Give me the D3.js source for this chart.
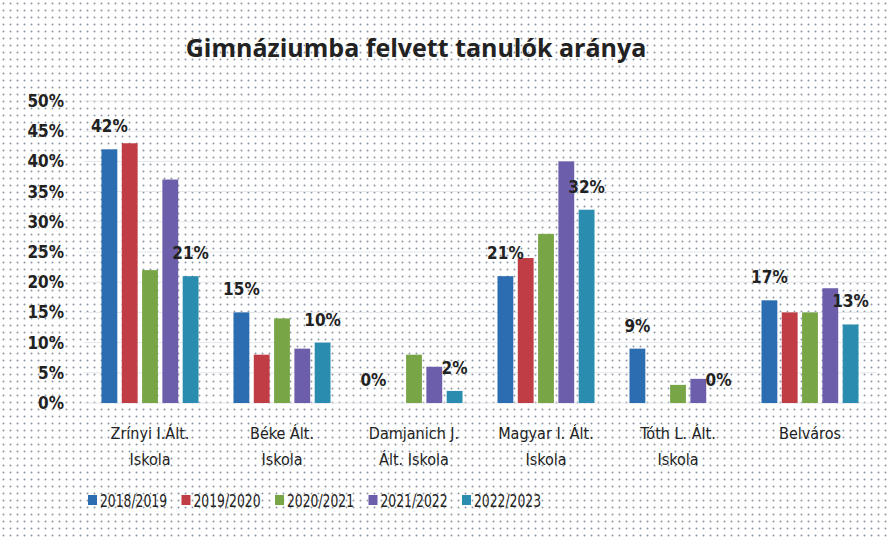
<!DOCTYPE html>
<html>
<head>
<meta charset="utf-8">
<script src="https://cdn.jsdelivr.net/npm/d3@7"></script>
<style>
  body { margin: 0; background: #fff; }
  text { font-family: "DejaVu Sans Condensed", "Roboto", sans-serif; fill: #222; }
</style>
</head>
<body>
<script>
// Gimnáziumba felvett tanulók aránya - grouped bar chart

var svgwidth = 891;
var svgheight = 539;

var schools = [
    ["Zrínyi I.Ált.", "Iskola"],
    ["Béke Ált.", "Iskola"],
    ["Damjanich J.", "Ált. Iskola"],
    ["Magyar I. Ált.", "Iskola"],
    ["Tóth L. Ált.", "Iskola"],
    ["Belváros"]
];
var years = ["2018/2019", "2019/2020", "2020/2021", "2021/2022", "2022/2023"];
var colors = ["#2b6db0", "#c03d45", "#78a646", "#6d5eac", "#2a8db0"];

// percent values per year, one per school
var v2018 = [42, 15, 0, 21, 9, 17];
var v2019 = [43, 8, 0, 24, 0, 15];
var v2020 = [22, 14, 8, 28, 3, 15];
var v2021 = [37, 9, 6, 40, 4, 19];
var v2022 = [21, 10, 2, 32, 0, 13];
var series = [v2018, v2019, v2020, v2021, v2022];

var yTicks = [0, 5, 10, 15, 20, 25, 30, 35, 40, 45, 50];

var margin = { top: 101, right: 15, bottom: 136, left: 84 };
var width = svgwidth - margin.left - margin.right;
var height = svgheight - margin.top - margin.bottom;

var svg = d3.select("body")
    .append("svg")
    .attr("width", svgwidth)
    .attr("height", svgheight);

// scanned dotted background
var defs = svg.append("defs");
var pat = defs.append("pattern")
    .attr("id", "dots")
    .attr("width", 7)
    .attr("height", 7)
    .attr("patternUnits", "userSpaceOnUse");
pat.append("circle")
    .attr("cx", 3.5).attr("cy", 3.5).attr("r", 1)
    .attr("fill", "#6e7a8a");

svg.append("rect")
    .attr("width", svgwidth)
    .attr("height", svgheight)
    .attr("fill", "url(#dots)")
    .attr("opacity", 0.8);

var chartGroup = svg.append("g")
    .attr("transform", `translate(${margin.left}, ${margin.top})`);

var x0 = d3.scaleBand()
    .domain(d3.range(schools.length))
    .range([0, width])
    .paddingInner(0.265)
    .paddingOuter(0.1325);

var x1 = d3.scaleBand()
    .domain(d3.range(years.length))
    .range([0, x0.bandwidth()])
    .paddingInner(0.22);

var y = d3.scaleLinear()
    .domain([0, 50])
    .range([height, 0]);

// gridlines
chartGroup.append("g")
    .selectAll("line")
    .data(yTicks)
    .enter()
    .append("line")
    .attr("x1", 0)
    .attr("x2", width)
    .attr("y1", d => y(d))
    .attr("y2", d => y(d))
    .attr("stroke", "#e4e6ea")
    .attr("stroke-width", 1);

// y axis labels
var leftAxis = d3.axisLeft(y)
    .tickValues(yTicks)
    .tickFormat(d => d + "%")
    .tickSize(0)
    .tickPadding(20);

var yAxis = chartGroup.append("g").call(leftAxis);
yAxis.select(".domain").remove();
yAxis.selectAll("text")
    .attr("font-size", "17px")
    .attr("font-weight", "bold")
    .style("font-family", "\"DejaVu Sans Condensed\", sans-serif")
    .attr("fill", "#222");

// bars
var groups = chartGroup.selectAll(".school")
    .data(schools)
    .enter()
    .append("g")
    .attr("class", "school")
    .attr("transform", (d, i) => `translate(${x0(i)}, 0)`);

groups.selectAll("rect")
    .data((d, i) => series.map((s, j) => ({ j: j, v: s[i] })))
    .enter()
    .append("rect")
    .attr("x", d => x1(d.j))
    .attr("y", d => y(d.v))
    .attr("width", x1.bandwidth())
    .attr("height", d => height - y(d.v))
    .attr("fill", d => colors[d.j]);

// data labels for first and last series only
groups.selectAll(".lbl")
    .data((d, i) => [0, years.length - 1].map(j => ({ j: j, v: series[j][i] })))
    .enter()
    .append("text")
    .attr("class", "lbl")
    .attr("x", d => x1(d.j) + x1.bandwidth() / 2)
    .attr("y", d => y(d.v) - 17)
    .attr("text-anchor", "middle")
    .attr("font-size", "17px")
    .attr("font-weight", "bold")
    .text(d => d.v + "%");

// category labels
var catText = chartGroup.selectAll(".cat")
    .data(schools)
    .enter()
    .append("text")
    .attr("class", "cat")
    .attr("x", (d, i) => x0(i) + x0.bandwidth() / 2)
    .attr("y", height + 36)
    .attr("text-anchor", "middle")
    .attr("font-size", "16px");

catText.selectAll("tspan")
    .data(d => d)
    .enter()
    .append("tspan")
    .attr("x", function() { return d3.select(this.parentNode).attr("x"); })
    .attr("dy", (d, i) => i === 0 ? 0 : 26)
    .text(d => d);

// title
svg.append("text")
    .attr("x", 416)
    .attr("y", 57)
    .attr("text-anchor", "middle")
    .attr("font-size", "25px")
    .attr("font-weight", "bold")
    .style("font-family", "\"Open Sans\", \"DejaVu Sans\", sans-serif")
    .attr("fill", "#262626")
    .text("Gimnáziumba felvett tanulók aránya");

// legend
var legend = svg.append("g")
    .attr("transform", "translate(88, 507)");

var items = legend.selectAll("g")
    .data(years)
    .enter()
    .append("g")
    .attr("transform", (d, i) => `translate(${i * 93.5}, 0)`);

items.append("rect")
    .attr("x", 0)
    .attr("y", -12)
    .attr("width", 9)
    .attr("height", 10)
    .attr("fill", (d, i) => colors[i]);

items.append("text")
    .attr("x", 12)
    .attr("y", 0)
    .attr("font-size", "17px")
    .attr("textLength", 67)
    .attr("lengthAdjust", "spacingAndGlyphs")
    .text(d => d);
</script>
</body>
</html>
